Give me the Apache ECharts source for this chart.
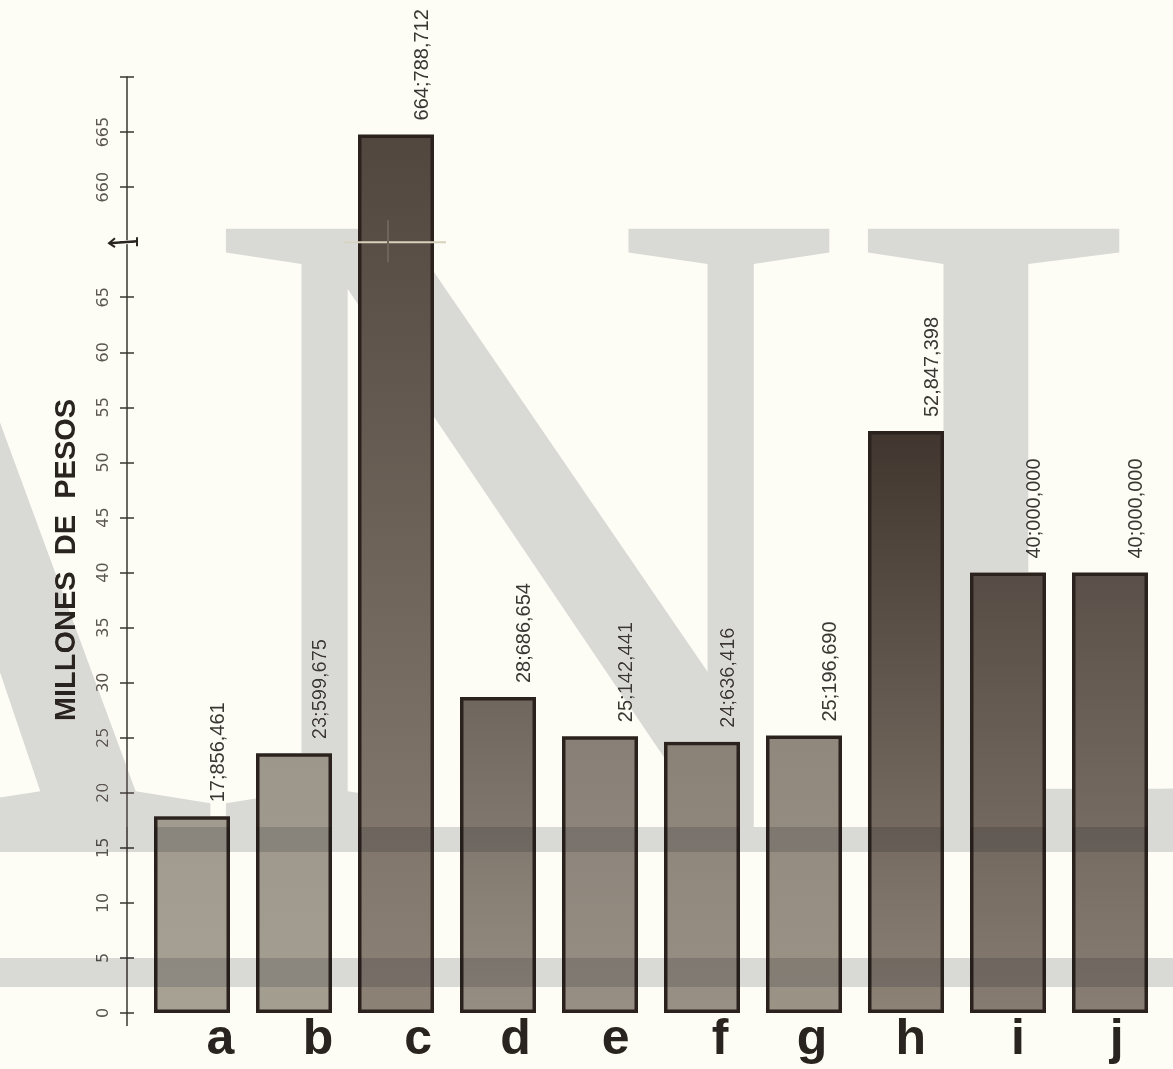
<!DOCTYPE html>
<html>
<head>
<meta charset="utf-8">
<script src="https://cdn.jsdelivr.net/npm/echarts@6/dist/echarts.min.js"></script>
<style>
  html, body { margin: 0; padding: 0; background: #fefdf5; }
  #main { width: 1173px; height: 1069px; }
</style>
</head>
<body>
<div id="main"></div>
<script>
// categorias y montos (millones de pesos)
var categories = ['a', 'b', 'c', 'd', 'e', 'f', 'g', 'h', 'i', 'j'];
var values = [17.856461, 23.599675, 664.788712, 28.686654, 25.142441, 24.636416, 25.196690, 52.847398, 40.0, 40.0];
var valueLabels = ['17;856,461', '23;599,675', '664;788,712', '28;686,654', '25;142,441',
  '24;636,416', '25;196,690', '52,847,398', '40;000,000', '40;000,000'];
// eje cortado: 0..70 y 655..670
var lowerTicks = [0, 5, 10, 15, 20, 25, 30, 35, 40, 45, 50, 55, 60, 65];
var upperTicks = [660, 665];
var breakLow = 70;
var breakHigh = 655;
var axisTop = 670;

// colores de las barras (arriba / abajo)
var barTop = ['#a19b8f', '#9d978b', '#51473f', '#6f665e', '#888076', '#8a8177', '#90887c', '#40362f', '#564c45', '#5a5049'];
var barBottom = ['#a7a194', '#a49e91', '#8c8276', '#978e83', '#978f84', '#989085', '#9c9387', '#8c8276', '#867c71', '#887e73'];

function squash(v) {
  return v <= breakLow ? v : v - (breakHigh - breakLow);
}
function unsquash(v) {
  return v <= breakLow ? v : v + (breakHigh - breakLow);
}

var tickVals = lowerTicks.concat([breakLow], upperTicks.map(squash), [squash(axisTop)]);
var labelVals = lowerTicks.concat(upperTicks.map(squash));

var barData = values.map(function (v, i) {
  return {
    value: squash(v),
    itemStyle: {
      color: new echarts.graphic.LinearGradient(0, 0, 0, 1, [
        { offset: 0, color: barTop[i] },
        { offset: 1, color: barBottom[i] }
      ])
    }
  };
});

var chart = echarts.init(document.getElementById('main'), null, { renderer: 'canvas' });

var yMax = squash(axisTop);
var axisColor = '#3a3430';

var option = {
  backgroundColor: '#fefdf5',
  animation: false,
  grid: [
    { left: 141, top: 77, width: 1020, bottom: 56 },
    // solo para las letras, corridas al borde derecho de cada barra
    { left: 185, top: 77, width: 1020, bottom: 56 }
  ],
  xAxis: [{
    type: 'category',
    gridIndex: 0,
    data: categories,
    axisLine: { show: false },
    axisTick: { show: false },
    axisLabel: { show: false }
  }, {
    type: 'category',
    gridIndex: 1,
    data: categories,
    axisLine: { show: false },
    axisTick: { show: false },
    axisLabel: {
      align: 'right',
      margin: 2,
      fontSize: 50,
      fontWeight: 'bold',
      fontFamily: 'Liberation Sans',
      color: '#29241f'
    }
  }],
  yAxis: [{
    type: 'value',
    gridIndex: 0,
    min: 0,
    max: yMax,
    interval: 5,
    offset: 14,
    splitLine: { show: false },
    axisLine: { show: true, lineStyle: { color: axisColor, width: 1.5 } },
    axisTick: { show: true, length: 7, customValues: tickVals, lineStyle: { color: axisColor, width: 1.5 } },
    axisLabel: {
      customValues: labelVals,
      rotate: 90,
      margin: 15,
      fontSize: 16,
      fontFamily: 'DejaVu Sans',
      color: '#5a5550',
      formatter: function (v) {
        return String(unsquash(v));
      }
    },
    name: 'MILLONES  DE  PESOS',
    nameLocation: 'middle',
    nameGap: 46,
    nameTextStyle: {
      fontSize: 29,
      fontWeight: 'bold',
      fontFamily: 'Liberation Sans',
      color: '#2a2420',
      padding: [0, 30, 0, 0]
    }
  }, {
    // marcas hacia adentro (cruz)
    type: 'value',
    gridIndex: 0,
    min: 0,
    max: yMax,
    interval: 5,
    offset: 14,
    position: 'left',
    splitLine: { show: false },
    axisLine: { show: false },
    axisTick: { show: true, inside: true, length: 7, customValues: tickVals, lineStyle: { color: axisColor, width: 1.5 } },
    axisLabel: { show: false }
  }, {
    type: 'value',
    gridIndex: 1,
    min: 0,
    max: yMax,
    show: false
  }],
  series: [{
    type: 'bar',
    xAxisIndex: 0,
    yAxisIndex: 0,
    data: barData,
    barWidth: 76,
    itemStyle: { borderColor: '#2b221e', borderWidth: 3.5 },
    label: {
      show: true,
      position: 'top',
      distance: 14,
      rotate: 90,
      align: 'left',
      verticalAlign: 'middle',
      // con rotate 90 el segundo valor mueve a la derecha
      offset: [0, 26],
      fontSize: 20,
      fontFamily: 'Liberation Sans',
      color: '#3a3633',
      formatter: function (p) {
        return valueLabels[p.dataIndex];
      }
    }
  }]
};

chart.setOption(option);

// marca del corte
var yBreak = chart.convertToPixel({ yAxisIndex: 0 }, breakLow);
var yZero = chart.convertToPixel({ yAxisIndex: 0 }, 0);
var xAxisPx = 127;
var xc = chart.convertToPixel({ xAxisIndex: 0 }, 'c');

// marca de agua: franjas con "multiply" (oscurecen las barras),
// letras con "darken" (quedan como detras de las barras, sin costura)
var wmTint = '#dadbdf';
var wmGray = '#d9d9d6';

function makeLayer() {
  var c = document.createElement('canvas');
  c.width = 1173;
  c.height = 1069;
  return c;
}

var bands = makeLayer();
var bctx = bands.getContext('2d');
bctx.fillStyle = wmTint;
bctx.fillRect(0, 827, 1173, 25);
bctx.fillRect(0, 958, 1173, 29);

var letters = makeLayer();
var lctx = letters.getContext('2d');
lctx.fillStyle = wmGray;
lctx.translate(0, 827);
lctx.scale(1, 1.015);
lctx.font = 'normal 900px "Liberation Serif"';
lctx.textBaseline = 'alphabetic';
lctx.textAlign = 'left';
lctx.fillText('A', -433, 0);
lctx.fillText('N', 200, 0);
lctx.fillText('L', 842, 0);

chart.setOption({
  graphic: [
    {
      type: 'image', silent: true, z: 100,
      style: { image: bands, x: 0, y: 0, width: 1173, height: 1069, blend: 'multiply' }
    },
    {
      type: 'image', silent: true, z: 101,
      style: { image: letters, x: 0, y: 0, width: 1173, height: 1069, blend: 'darken' }
    },
    {
      type: 'line', silent: true, z: 50,
      shape: { x1: xAxisPx, y1: yZero, x2: xAxisPx, y2: yZero + 13 },
      style: { stroke: axisColor, lineWidth: 1.5 }
    },
    {
      type: 'rect', silent: true, z: 1,
      shape: { x: xAxisPx - 4, y: yBreak - 2, width: 8, height: 4 },
      style: { fill: '#fefdf5' }
    },
    {
      type: 'polyline', silent: true, z: 50,
      shape: { points: [[xAxisPx - 18, yBreak + 1], [xAxisPx + 10, yBreak - 1]] },
      style: { stroke: '#2b2522', lineWidth: 2.5, fill: null }
    },
    {
      type: 'polyline', silent: true, z: 50,
      shape: { points: [[xAxisPx - 12, yBreak - 4], [xAxisPx - 18, yBreak + 1], [xAxisPx - 12, yBreak + 5]] },
      style: { stroke: '#2b2522', lineWidth: 2, fill: null }
    },
    {
      type: 'line', silent: true, z: 50,
      shape: { x1: xAxisPx + 10, y1: yBreak - 5, x2: xAxisPx + 10, y2: yBreak + 4 },
      style: { stroke: '#2b2522', lineWidth: 2 }
    },
    {
      type: 'line', silent: true, z: 50,
      shape: { x1: xc - 52, y1: yBreak, x2: xc + 50, y2: yBreak },
      style: { stroke: '#d8d2bc', lineWidth: 2 }
    },
    {
      type: 'line', silent: true, z: 50,
      shape: { x1: xc - 8, y1: yBreak - 22, x2: xc - 8, y2: yBreak + 20 },
      style: { stroke: '#6e645a', lineWidth: 2 }
    }
  ]
});
</script>
</body>
</html>
